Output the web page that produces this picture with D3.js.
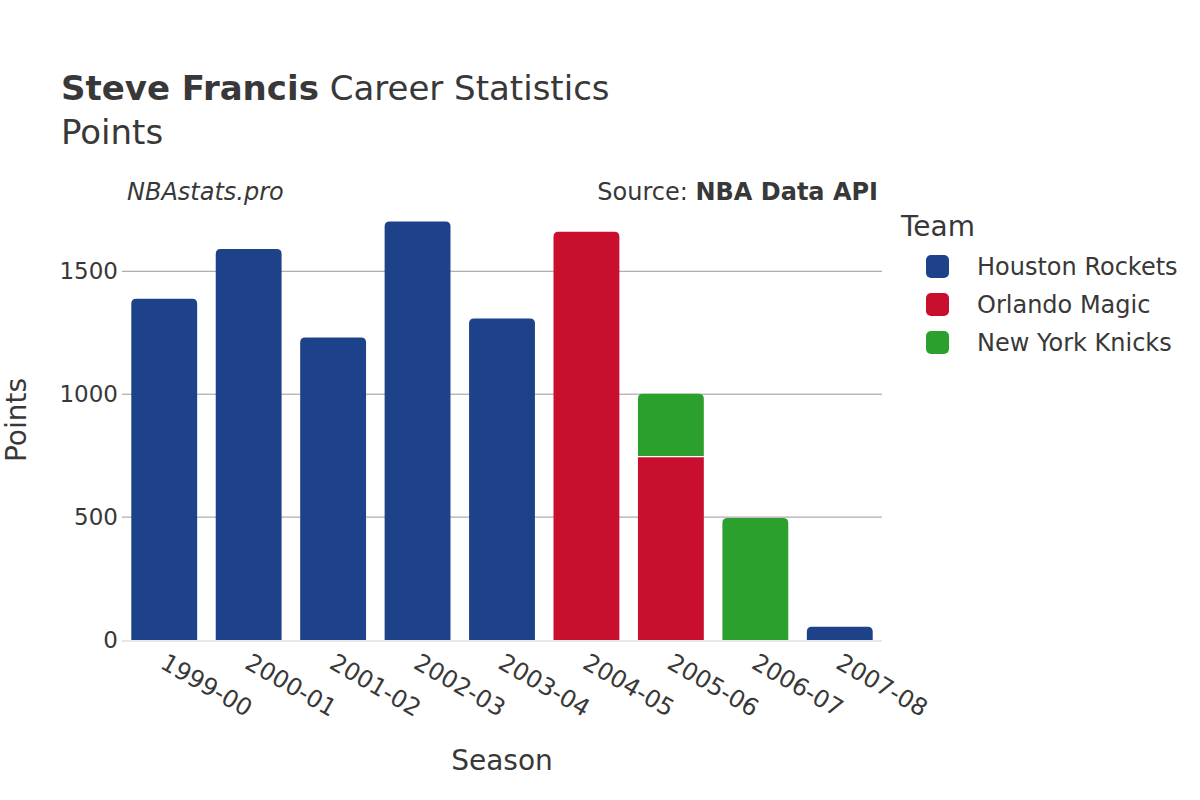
<!DOCTYPE html>
<html><head><meta charset="utf-8">
<script src="https://cdn.jsdelivr.net/npm/d3@7"></script>
<style>body{margin:0;background:#fff;font-family:"DejaVu Sans",sans-serif;}</style>
</head><body><svg id="c" width="1200" height="800"></svg>
<script>
const seasons = ["1999-00","2000-01","2001-02","2002-03","2003-04","2004-05","2005-06","2006-07","2007-08"];
const teams = ["Houston Rockets","Orlando Magic","New York Knicks"];
const teamColors = ["#1d428a","#c8102e","#2ca02c"];
const houston = [1388,1591,1231,1703,1308,0,0,0,54];
const orlando = [0,0,0,0,0,1661,746,0,0];
const knicks  = [0,0,0,0,0,0,256,496,0];
const yTicks = [0,500,1000,1500];

const svg = d3.select("#c");
const M = {l:122, r:882, t:200, b:640};
const x = d3.scaleBand().domain(seasons).range([M.l, M.r]).paddingInner(0.22).paddingOuter(0.11);
const y = d3.scaleLinear().domain([0, 1790]).range([M.b, 200]);
const txt = "#383838";

// grid
svg.append("g").selectAll("line").data(yTicks.filter(d=>d>0)).join("line")
  .attr("x1",M.l).attr("x2",M.r).attr("y1",d=>y(d)).attr("y2",d=>y(d))
  .attr("stroke","#999").attr("stroke-width",1);
svg.append("line").attr("x1",M.l).attr("x2",M.r).attr("y1",y(0)+1).attr("y2",y(0)+1)
  .attr("stroke","#e8e8e8").attr("stroke-width",2);

// y tick labels
svg.append("g").selectAll("text").data(yTicks).join("text")
  .attr("x",M.l-4).attr("y",d=>y(d)).attr("dy","0.35em").attr("text-anchor","end")
  .attr("font-size",23).attr("fill",txt).text(d=>d);

// stacked bars
const stackData = seasons.map((s,i)=>({season:s, v:[houston[i],orlando[i],knicks[i]]}));
function roundTop(x0,y0,w,h,r){
  r=Math.min(r,h,w/2);
  return `M${x0},${y0+h}V${y0+r}Q${x0},${y0} ${x0+r},${y0}H${x0+w-r}Q${x0+w},${y0} ${x0+w},${y0+r}V${y0+h}Z`;
}
const bars = svg.append("g");
stackData.forEach(d=>{
  let base=0;
  const nz = d.v.map((v,k)=>v>0?k:-1).filter(k=>k>=0);
  const topK = nz[nz.length-1];
  d.v.forEach((v,k)=>{
    if(v<=0) return;
    const y1=y(base+v), y0=y(base);
    const xx=x(d.season), w=x.bandwidth();
    if(k===topK){
      bars.append("path").attr("d",roundTop(xx,y1,w,y0-y1,5)).attr("fill",teamColors[k]);
    } else {
      bars.append("rect").attr("x",xx).attr("y",y1).attr("width",w).attr("height",y0-y1).attr("fill",teamColors[k]);
    }
    if(base>0){
      bars.append("line").attr("x1",xx).attr("x2",xx+w).attr("y1",y0).attr("y2",y0).attr("stroke","#fff").attr("stroke-width",1.2);
    }
    base+=v;
  });
});

// x tick labels
svg.append("g").selectAll("text").data(seasons).join("text")
  .attr("transform",d=>`translate(${x(d)+x.bandwidth()/2-1},${M.b+20}) rotate(30)`)
  .attr("text-anchor","start").attr("dy","0.35em")
  .attr("font-size",24).attr("fill",txt).text(d=>d);

// axis titles
svg.append("text").attr("x",502).attr("y",770).attr("text-anchor","middle").attr("font-size",28).attr("fill",txt).text("Season");
svg.append("text").attr("transform","translate(26,420) rotate(-90)").attr("text-anchor","middle").attr("font-size",28).attr("fill",txt).text("Points");

// title
const t = svg.append("text").attr("x",61).attr("y",100).attr("font-size",34).attr("fill",txt);
t.append("tspan").attr("font-weight","bold").text("Steve Francis");
t.append("tspan").text(" Career Statistics");
svg.append("text").attr("x",61).attr("y",144).attr("font-size",34).attr("fill",txt).text("Points");

svg.append("text").attr("x",127).attr("y",200).attr("font-size",24).attr("font-style","italic").attr("fill",txt).text("NBAstats.pro");
const s = svg.append("text").attr("x",878).attr("y",200).attr("text-anchor","end").attr("font-size",24).attr("fill",txt);
s.append("tspan").text("Source: ");
s.append("tspan").attr("font-weight","bold").text("NBA Data API");

// legend
svg.append("text").attr("x",901).attr("y",236).attr("font-size",28).attr("fill",txt).text("Team");
const lg = svg.append("g").selectAll("g").data(teams).join("g")
  .attr("transform",(d,i)=>`translate(926,${255+i*38})`);
lg.append("rect").attr("width",23).attr("height",23).attr("rx",5).attr("fill",(d,i)=>teamColors[i]);
lg.append("text").attr("x",51).attr("y",12).attr("dy","0.35em").attr("font-size",24).attr("fill",txt).text(d=>d);
</script></body></html>
